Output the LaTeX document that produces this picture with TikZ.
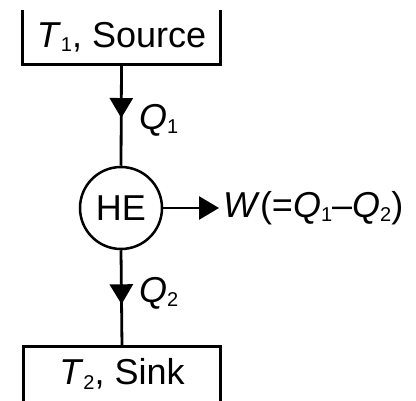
\documentclass[tikz,border=0pt]{standalone}
\usepackage{fontspec}
\setmainfont{Liberation Sans}
\usetikzlibrary{arrows.meta,decorations.markings}
\newcommand{\mysub}[1]{\raisebox{-0.12em}{\fontsize{20}{22}\selectfont #1}}
\begin{document}
\begin{tikzpicture}[x=1pt,y=-1pt,
  txt/.style={font=\fontsize{36}{40}\selectfont, inner sep=0pt},
  ln/.style={line width=2.8pt},
  midarrow/.style={postaction={decorate},decoration={markings,
     mark=at position #1 with {\arrow{Triangle[width=23pt,length=20pt]}}}}]
\useasboundingbox (0,0) rectangle (416,401);
\node[txt, minimum width=197pt, minimum height=54pt] (src) at (121.5,37) {\textit{T}\mysub{1}, Source};
\draw[ln] (src.north west) -- (src.south west) -- (src.south east) -- (src.north east);
\node[txt, circle, draw, line width=2.5pt, minimum size=82pt] (he) at (121,208) {HE};
\node[txt, minimum width=197pt, minimum height=54pt] (snk) at (122,374) {\textit{T}\mysub{2}, Sink};
\draw[ln] (snk.south west) -- (snk.north west) -- (snk.north east) -- (snk.south east);
\draw[ln, midarrow=0.53] (src.south) -- (he.north);
\draw[ln, midarrow=0.56] (he.south) -- (snk.north);
\coordinate (wt) at (219,208);
\draw[ln, -{Triangle[width=23pt,length=20pt]}] (he.east) -- (wt);
\node[txt, anchor=west] (q1) at (139,120) {\textit{Q}\mysub{1}};
\node[txt, anchor=west] (q2) at (139,293) {\textit{Q}\mysub{2}};
\node[txt, anchor=west] (w) at (223,208) {\textit{W}(=\textit{Q}\mysub{1}--\textit{Q}\mysub{2})};
\end{tikzpicture}
\end{document}
